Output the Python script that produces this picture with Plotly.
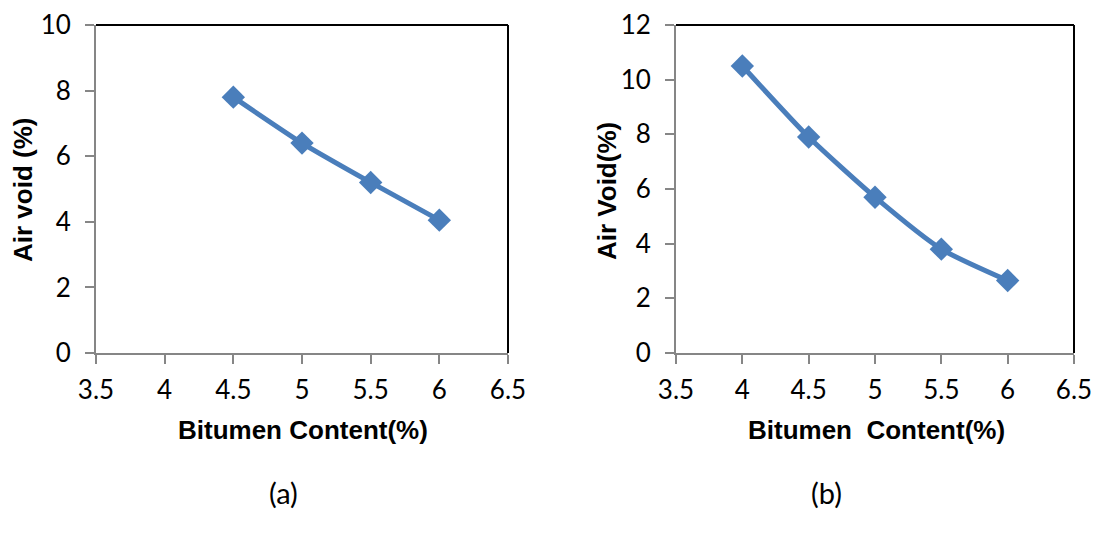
import plotly.graph_objects as go

# ---- data ----
bitumen_a = [4.5, 5.0, 5.5, 6.0]
air_void_a = [7.8, 6.4, 5.2, 4.05]

bitumen_b = [4.0, 4.5, 5.0, 5.5, 6.0]
air_void_b = [10.5, 7.9, 5.7, 3.8, 2.65]

x_ticks = [3.5, 4, 4.5, 5, 5.5, 6, 6.5]
y_ticks_a = [0, 2, 4, 6, 8, 10]
y_ticks_b = [0, 2, 4, 6, 8, 10, 12]

W, H = 1093, 536
LINE_COLOR = "#4A7EBB"
AXIS_GRAY = "#868686"
TICK_FONT = dict(family="Lato, Carlito, Calibri, sans-serif", size=26, color="#000000")
CAP_FONT = dict(family="Lato, Carlito, Calibri, sans-serif", size=29, color="#000000")
TITLE_FONT = dict(family="Arial, Liberation Sans, sans-serif", size=26, color="#000000")

# pixel layout
ax_l = (96, 508)
ax_r = (676, 1074)
y_top, y_bot = 25, 353


def px_x(p):
    return p / W


def px_y(p):
    return 1 - p / H


fig = go.Figure()

fig.add_trace(go.Scatter(
    x=bitumen_a, y=air_void_a, mode="lines+markers",
    line=dict(color=LINE_COLOR, width=5, shape="spline", smoothing=0.5),
    marker=dict(symbol="diamond", size=18, color=LINE_COLOR),
    xaxis="x", yaxis="y", showlegend=False,
))
fig.add_trace(go.Scatter(
    x=bitumen_b, y=air_void_b, mode="lines+markers",
    line=dict(color=LINE_COLOR, width=5, shape="spline", smoothing=0.6),
    marker=dict(symbol="diamond", size=18, color=LINE_COLOR),
    xaxis="x2", yaxis="y2", showlegend=False,
))

common_x = dict(
    range=[3.5, 6.5], tickvals=x_ticks, ticktext=[f"{v:g}" for v in x_ticks],
    showgrid=False, zeroline=False, showline=True, linecolor=AXIS_GRAY, linewidth=2,
    ticks="outside", ticklen=9, tickwidth=2, tickcolor=AXIS_GRAY,
    tickfont=TICK_FONT, ticklabelstandoff=4, automargin=False, fixedrange=True,
)
common_y = dict(
    showgrid=False, zeroline=False, showline=True, linecolor=AXIS_GRAY, linewidth=2,
    ticks="outside", ticklen=9, tickwidth=2, tickcolor=AXIS_GRAY,
    tickfont=TICK_FONT, ticklabelstandoff=9, automargin=False, fixedrange=True,
)

dom_y = [px_y(y_bot), px_y(y_top)]

fig.update_layout(
    width=W, height=H,
    margin=dict(l=0, r=0, t=0, b=0),
    paper_bgcolor="white", plot_bgcolor="white",
    xaxis=dict(domain=[px_x(ax_l[0]), px_x(ax_l[1])], anchor="y", **common_x),
    yaxis=dict(domain=dom_y, anchor="x", range=[0, 10], tickvals=y_ticks_a, **common_y),
    xaxis2=dict(domain=[px_x(ax_r[0]), px_x(ax_r[1])], anchor="y2", **common_x),
    yaxis2=dict(domain=dom_y, anchor="x2", range=[0, 12], tickvals=y_ticks_b, **common_y),
)

# black top/right frame lines
for xr, yr in (("x domain", "y domain"), ("x2 domain", "y2 domain")):
    fig.add_shape(type="line", xref=xr, yref=yr, x0=0, x1=1, y0=1, y1=1,
                  line=dict(color="#000000", width=2))
    fig.add_shape(type="line", xref=xr, yref=yr, x0=1, x1=1, y0=0, y1=1,
                  line=dict(color="#000000", width=2))

# axis titles and captions
ann = [
    dict(text="<b>Bitumen Content(%)</b>", x=px_x(303), y=px_y(430), font=TITLE_FONT),
    dict(text="<b>Bitumen\u00a0 Content(%)</b>", x=px_x(876), y=px_y(430), font=TITLE_FONT),
    dict(text="<b>Air void (%)</b>", x=px_x(23), y=px_y(190), font=TITLE_FONT, textangle=-90),
    dict(text="<b>Air Void(%)</b>", x=px_x(607), y=px_y(191), font=TITLE_FONT, textangle=-90),
    dict(text="(a)", x=px_x(283), y=px_y(492), font=CAP_FONT),
    dict(text="(b)", x=px_x(826), y=px_y(492), font=CAP_FONT),
]
for a in ann:
    fig.add_annotation(xref="paper", yref="paper", xanchor="center", yanchor="middle",
                       showarrow=False, **a)

fig.write_html("out.html")
